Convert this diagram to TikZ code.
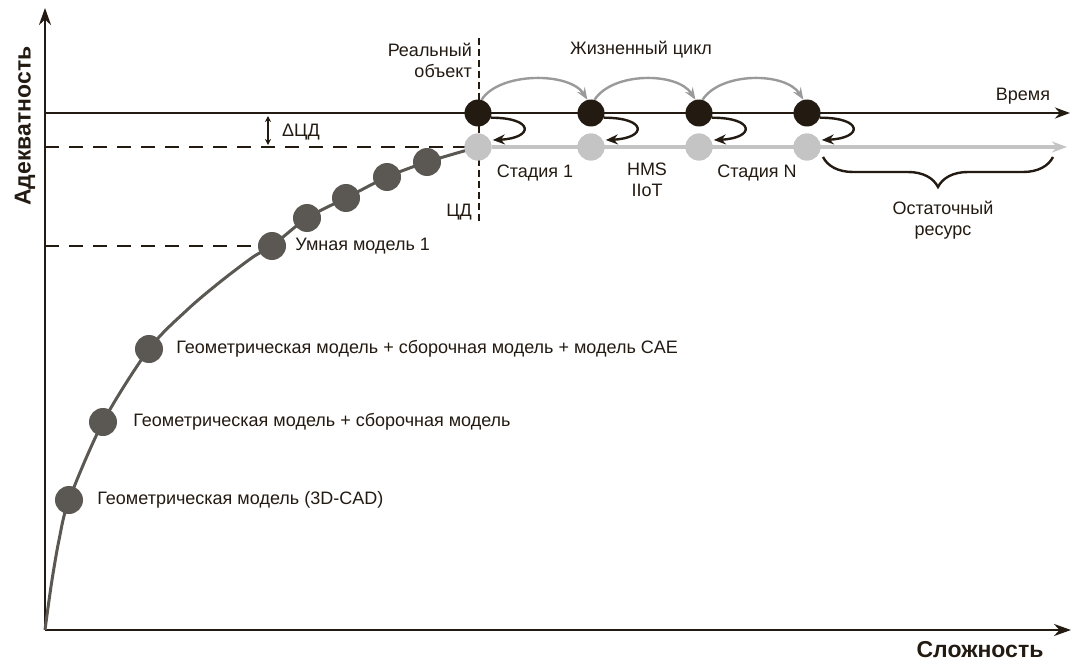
\documentclass[tikz,border=0pt]{standalone}
\usepackage{fontspec}
\setmainfont{Liberation Sans}
\usetikzlibrary{positioning,arrows.meta,decorations.pathreplacing}
\definecolor{ink}{HTML}{231A12}
\definecolor{modelgray}{HTML}{5B5853}
\definecolor{twingray}{HTML}{C4C4C4}
\definecolor{arcgray}{HTML}{9A9A9A}
\tikzset{
  realdot/.style={circle,fill=ink,minimum size=27pt,inner sep=0pt},
  twindot/.style={circle,fill=twingray,minimum size=27pt,inner sep=0pt},
  modeldot/.style={circle,fill=modelgray,minimum size=28pt,inner sep=0pt},
  lbl/.style={text=ink,font=\fontsize{18}{21}\selectfont,inner sep=0pt},
  axislbl/.style={text=ink,font=\fontsize{23}{27}\selectfont\bfseries,inner sep=0pt},
  axis/.style={line width=2.8pt,draw=ink,-{Stealth[length=17pt,width=12pt]}},
  timeline/.style={line width=2.6pt,draw=ink,-{Stealth[length=15pt,width=11pt]}},
  twinline/.style={line width=3.2pt,draw=twingray,-{Stealth[length=15pt,width=11pt]}},
  level/.style={line width=2.2pt,draw=ink,dash pattern=on 14pt off 10pt},
  border/.style={line width=1.6pt,draw=ink,dash pattern=on 7pt off 4pt},
  lifearc/.style={line width=2.4pt,draw=arcgray,-{Stealth[length=12pt,width=9pt]}},
  curl/.style={line width=2.4pt,draw=ink,-{Stealth[length=12pt,width=10pt]},shorten >=3pt},
  resbrace/.style={line width=2.4pt,draw=ink,decorate,
    decoration={brace,mirror,amplitude=30pt}}
}
\begin{document}
\begin{tikzpicture}[x=1pt,y=-1pt]
  \useasboundingbox (0,0) rectangle (1072,661);
  % axes
  \coordinate (O) at (45,630);
  \coordinate (ytip) at (45,8);
  \coordinate (xtip) at (1071,630);
  \draw[axis] (O) -- (ytip);
  \draw[axis] (O) -- (xtip);
  \node[axislbl,rotate=90] (adeq) at (25,126) {Адекватность};
  \node[axislbl] (slozh) at (980,650) {Сложность};

  % time line and twin line
  \coordinate (tstart) at (45,113);
  \coordinate (tend) at (1070,113);
  \coordinate (gend) at (1067,147);
  \draw[timeline] (tstart) -- (tend);
  \node[lbl] (vremya) at (1023,96) {Время};

  % model curve
  \draw[line width=3pt,modelgray] plot[smooth] coordinates {(45,630) (47,615) (52,580)
    (59,540) (69,500) (103,422) (149,349) (187,310) (220,282) (253,257) (272,246)
    (307,218) (346,198) (387,177) (427,162) (478,147)};

  % dashed levels
  \coordinate (lvtop) at (45,147);
  \coordinate (lvsm) at (45,246);
  \coordinate (vtop) at (479,38);
  \coordinate (vbot) at (479,222);
  \draw[level] (lvtop) -- (466,147);
  \draw[level] (lvsm) -- (258,246);
  \draw[border] (vtop) -- (vbot);

  % real object and twin
  \node[realdot] (r1) at (478,113) {};
  \node[realdot] (r2) at (591,113) {};
  \node[realdot] (r3) at (699,113) {};
  \node[realdot] (r4) at (807,113) {};
  \node[twindot] (d1) at (478,147) {};
  \node[twindot] (d2) at (591,147) {};
  \node[twindot] (d3) at (699,147) {};
  \node[twindot] (d4) at (807,147) {};
  \draw[twinline] (d1.east) -- (gend);
  \foreach \i in {1,...,4}{
    \fill[twingray] (d\i) circle (13.5pt);
    \draw[curl] (r\i.-20) .. controls +(44,0) and +(44,-2) .. (d\i.30);
  }
  \draw[lifearc] (r1.75) .. controls +(18,-28) and +(-18,-28) .. (r2.105);
  \draw[lifearc] (r2.75) .. controls +(18,-28) and +(-18,-28) .. (r3.105);
  \draw[lifearc] (r3.75) .. controls +(18,-28) and +(-18,-28) .. (r4.105);

  % model dots
  \node[modeldot] (m1) at (69,500) {};
  \node[modeldot] (m2) at (103,422) {};
  \node[modeldot] (m3) at (149,349) {};
  \node[modeldot] (m4) at (272,246) {};
  \node[modeldot] (m5) at (307,218) {};
  \node[modeldot] (m6) at (346,198) {};
  \node[modeldot] (m7) at (387,177) {};
  \node[modeldot] (m8) at (427,162) {};

  \node[lbl,right=14pt of m1] (cad) {Геометрическая модель (3D-CAD)};
  \node[lbl,right=16pt of m2] (asm) {Геометрическая модель + сборочная модель};
  \node[lbl,right=13pt of m3] (cae) {Геометрическая модель + сборочная модель + модель CAE};
  \node[lbl,right=9pt of m4] (smart) {Умная модель 1};

  % labels
  \node[lbl,align=right,anchor=east] (real) at (472,60) {Реальный\\объект};
  \node[lbl,anchor=east] (cd) at (472,212) {ЦД};
  \node[lbl] (life) at (641,50) {Жизненный цикл};
  \node[lbl] (st1) at (535,173) {Стадия 1};
  \node[lbl,align=center] (hms) at (647,180) {HMS\\IIoT};
  \node[lbl] (stn) at (757,173) {Стадия N};

  % delta
  \coordinate (dtop) at (268,116);
  \coordinate (dbot) at (268,145);
  \draw[line width=1.6pt,ink,{Stealth[length=6pt,width=6pt]}-{Stealth[length=6pt,width=6pt]}] (dtop) -- (dbot);
  \node[lbl,anchor=west] (dcd) at (282,132) {ΔЦД};

  % residual resource
  \coordinate (bl) at (823,157);
  \coordinate (br) at (1053,157);
  \draw[resbrace] (bl) -- (br);
  \node[lbl,align=center] (rest) at (943,220) {Остаточный\\ресурс};
\end{tikzpicture}
\end{document}
